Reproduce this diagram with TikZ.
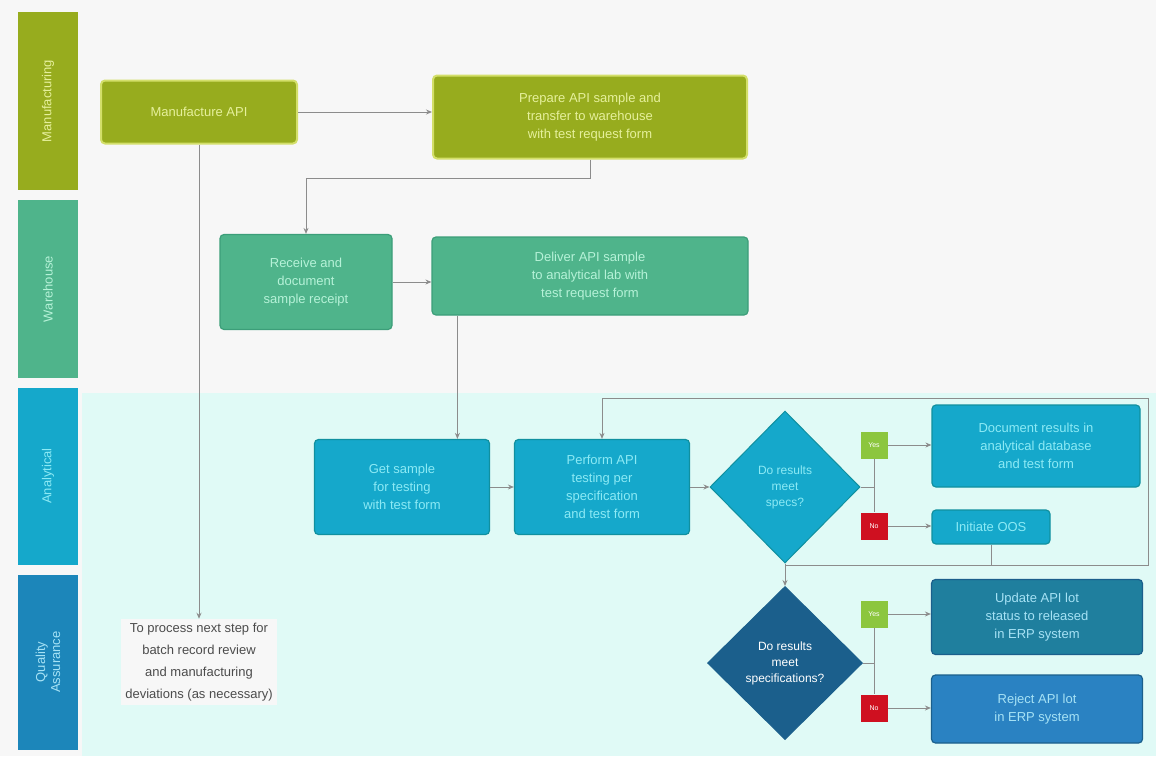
\documentclass[tikz,border=0pt]{standalone}
\usepackage{fontspec}
\setmainfont{Liberation Sans}
\usetikzlibrary{shapes.geometric,arrows.meta}

\definecolor{bgtop}{HTML}{F7F7F7}
\definecolor{bglow}{HTML}{E0FAF6}
\definecolor{mfgcol}{HTML}{97AC1E}
\definecolor{mfgedge}{HTML}{D3DF6A}
\definecolor{mfgtext}{HTML}{E6F09C}
\definecolor{whcol}{HTML}{4FB48B}
\definecolor{whedge}{HTML}{3C9E79}
\definecolor{whtext}{HTML}{B6F2D8}
\definecolor{ancol}{HTML}{15A8CB}
\definecolor{anedge}{HTML}{10909F}
\definecolor{antext}{HTML}{8CEAF5}
\definecolor{qacol}{HTML}{1C86BA}
\definecolor{qadark}{HTML}{1B5F8C}
\definecolor{qateal}{HTML}{1F7F9E}
\definecolor{qablue}{HTML}{2A82C2}
\definecolor{qatext}{HTML}{A6E2F5}
\definecolor{yescol}{HTML}{8CC63E}
\definecolor{nocol}{HTML}{CF1020}
\definecolor{linecol}{HTML}{8C8C8C}

\begin{document}
\begin{tikzpicture}[x=1pt,y=-1pt,
    lane/.style={rotate=90,minimum width=#1,minimum height=60,inner sep=0pt,
        align=center,font=\fontsize{13}{15}\selectfont},
    box/.style={rounded corners=4pt,align=center,inner sep=2pt,line width=1.2pt,
        font=\fontsize{13}{18}\selectfont},
    mfgbox/.style={box,fill=mfgcol,draw=mfgedge,text=mfgtext,line width=2pt},
    whbox/.style={box,fill=whcol,draw=whedge,text=whtext},
    anbox/.style={box,fill=ancol,draw=anedge,text=antext},
    decision/.style={diamond,aspect=1,inner sep=1pt,align=center,
        font=\fontsize{12}{16}\selectfont,draw=anedge,line width=1pt},
    answer/.style={minimum size=27,inner sep=0pt,text=white,font=\fontsize{7}{8}\selectfont},
    flow/.style={draw=linecol,line width=0.9pt,-{Stealth[length=6pt,width=5pt]}},
    wire/.style={draw=linecol,line width=0.9pt}]

    \useasboundingbox (0,0) rectangle (1156,756);
    \fill[bgtop] (0,0) rectangle (1156,756);
    \fill[bglow] (82,393) rectangle (1156,756);

    % swim lanes
    \node[lane=178,fill=mfgcol,text=mfgtext] (lmfg) at (48,101) {Manufacturing};
    \node[lane=178,fill=whcol,text=whtext] (lwh) at (48,289) {Warehouse};
    \node[lane=177,fill=ancol,text=antext] (lan) at (48,476) {Analytical};
    \node[lane=175,fill=qacol,text=qatext] (lqa) at (48,662) {Quality\\Assurance};

    % manufacturing
    \node[mfgbox,minimum width=196,minimum height=63] (mfg) at (199,112) {Manufacture API};
    \node[mfgbox,minimum width=314,minimum height=83] (prep) at (590,117)
        {Prepare API sample and\\transfer to warehouse\\with test request form};

    % warehouse
    \node[whbox,minimum width=172,minimum height=95] (recv) at (306,282)
        {Receive and\\document\\sample receipt};
    \node[whbox,minimum width=316,minimum height=78] (deliver) at (590,276)
        {Deliver API sample\\to analytical lab with\\test request form};

    % analytical
    \node[anbox,minimum width=175,minimum height=95] (getsample) at (402,487)
        {Get sample\\for testing\\with test form};
    \node[anbox,minimum width=175,minimum height=95] (perform) at (602,487)
        {Perform API\\testing per\\specification\\and test form};
    \node[decision,fill=ancol,text=antext,minimum width=150,minimum height=152] (dec1) at (785,487)
        {Do results\\meet\\specs?};
    \node[answer,fill=yescol] (yes1) at (874,445) {Yes};
    \node[answer,fill=nocol] (no1) at (874,526) {No};
    \node[anbox,minimum width=208,minimum height=82] (docres) at (1036,446)
        {Document results in\\analytical database\\and test form};
    \node[anbox,minimum width=118,minimum height=34,inner sep=1pt] (oos) at (991,527) {Initiate OOS};

    % quality assurance
    \node[decision,fill=qadark,draw=qadark,text=white,minimum width=155,minimum height=153] (dec2) at (785,663)
        {Do results\\meet\\specifications?};
    \node[answer,fill=yescol] (yes2) at (874,614) {Yes};
    \node[answer,fill=nocol] (no2) at (874,708) {No};
    \node[box,fill=qateal,draw=qadark,text=qatext,minimum width=211,minimum height=75] (q1) at (1037,617)
        {Update API lot\\status to released\\in ERP system};
    \node[box,fill=qablue,draw=qadark,text=qatext,minimum width=211,minimum height=68] (q2) at (1037,709)
        {Reject API lot\\in ERP system};
    \node[fill=bgtop,text=black!70,align=center,inner sep=4pt,
        font=\fontsize{13}{22}\selectfont] (note) at (199,662)
        {To process next step for\\batch record review\\and manufacturing\\deviations (as necessary)};

    \coordinate (bend1) at (306,178);
    \coordinate (loopNE) at (1148,398);
    \coordinate (loopSE) at (1148,565);

    % connectors
    \draw[flow] (mfg.east) -- (mfg.east -| prep.west);
    \draw[flow] (prep.south) |- (bend1) -- (recv.north);
    \draw[flow] (recv.east) -- (recv.east -| deliver.west);
    \draw[flow] ([xshift=26]deliver.south west) -- ([xshift=26]deliver.south west |- getsample.north);
    \draw[flow] (mfg.south) -- (note.north);
    \draw[flow] (getsample.east) -- (perform.west);
    \draw[flow] (perform.east) -- (dec1.west);
    \draw[wire] (dec1.east) -- (dec1.east -| yes1);
    \draw[wire] (yes1.south) -- (no1.north);
    \draw[flow] (yes1.east) -- (yes1.east -| docres.west);
    \draw[flow] (no1.east) -- (no1.east -| oos.west);
    \draw[flow] (oos.south) |- (loopSE) -- (loopNE) -| (perform.north);
    \draw[wire] (dec1.south |- loopSE) -- (loopSE);
    \draw[flow] (dec1.south) -- (dec2.north);
    \draw[wire] (dec2.east) -- (dec2.east -| yes2);
    \draw[wire] (yes2.south) -- (no2.north);
    \draw[flow] (yes2.east) -- (yes2.east -| q1.west);
    \draw[flow] (no2.east) -- (no2.east -| q2.west);
\end{tikzpicture}
\end{document}
